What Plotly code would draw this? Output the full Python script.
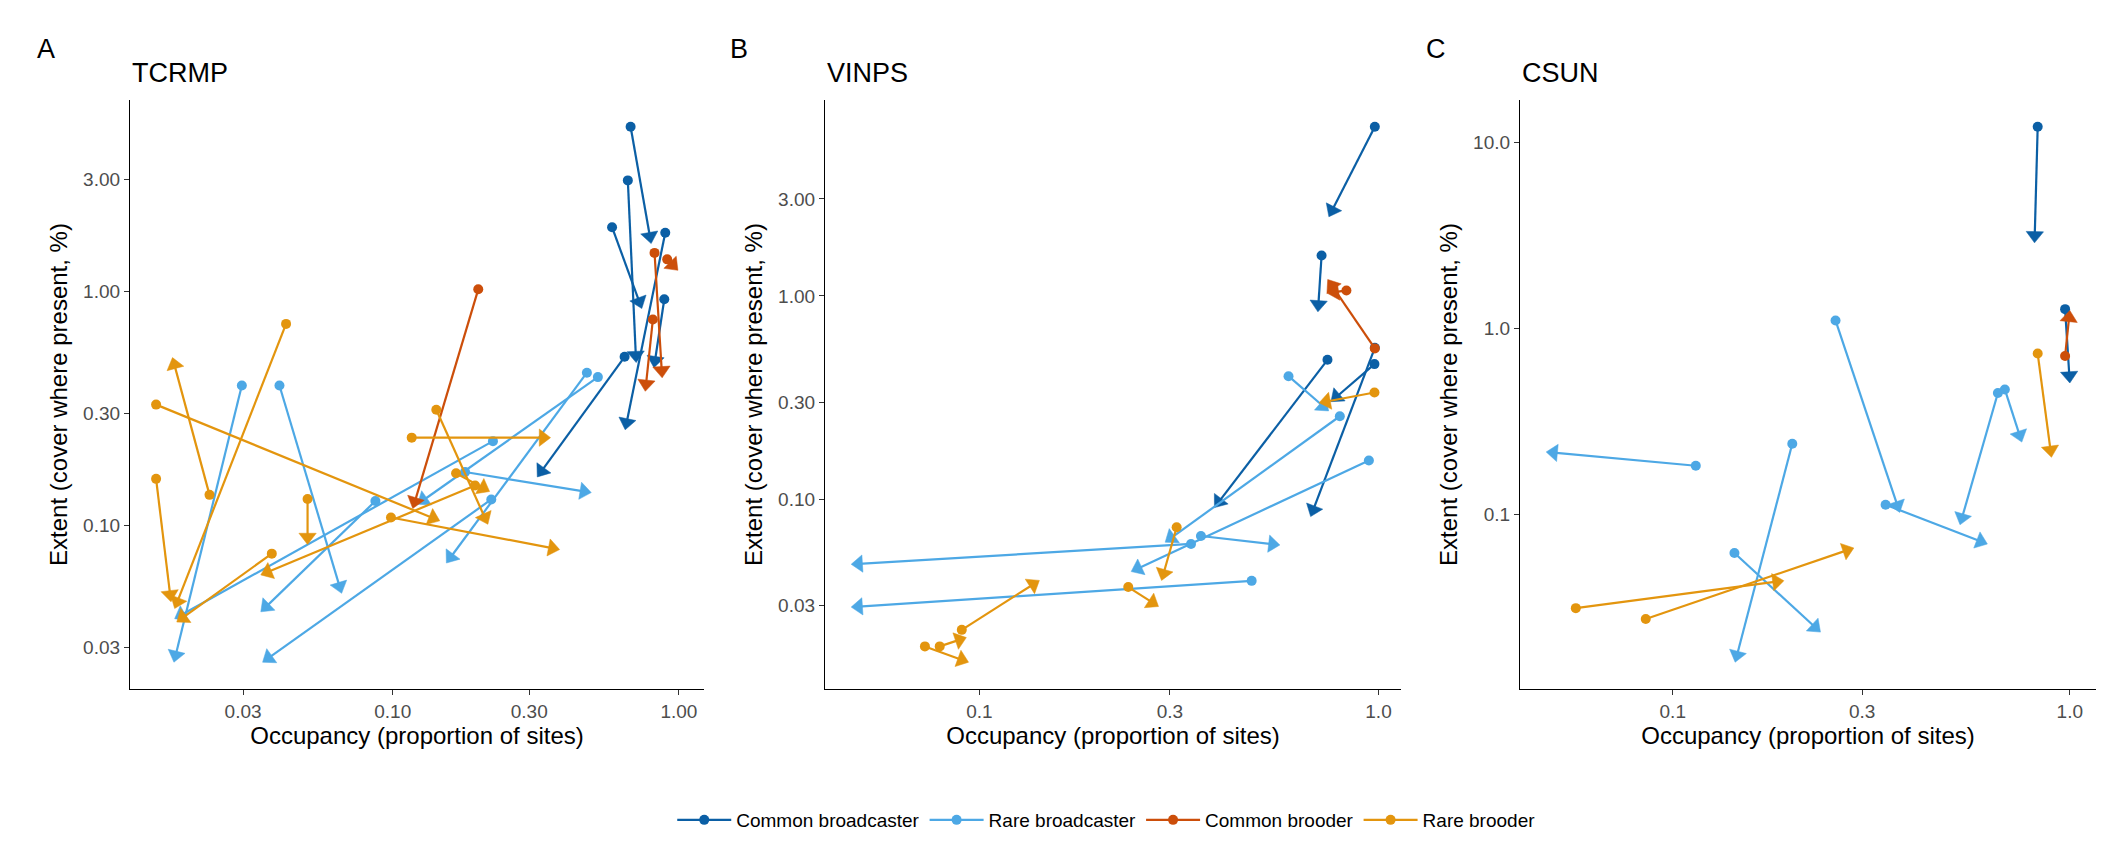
import numpy as np
import plotly.graph_objects as go

# groups, legend order and colours
groups = ['Common broadcaster', 'Rare broadcaster', 'Common brooder', 'Rare brooder']
colours = ['#0B5FA5', '#4DA8E5', '#CC4E0A', '#E3950E']

# TCRMP: occupancy / extent at first (occ1, ext1) and last (occ2, ext2) period
tcrmp_group = ['Common broadcaster', 'Common broadcaster', 'Common broadcaster',
               'Common broadcaster', 'Common broadcaster', 'Common broadcaster',
               'Rare broadcaster', 'Rare broadcaster', 'Rare broadcaster', 'Rare broadcaster',
               'Rare broadcaster', 'Rare broadcaster', 'Rare broadcaster', 'Rare broadcaster',
               'Common brooder', 'Common brooder', 'Common brooder', 'Common brooder',
               'Rare brooder', 'Rare brooder', 'Rare brooder', 'Rare brooder', 'Rare brooder',
               'Rare brooder', 'Rare brooder', 'Rare brooder', 'Rare brooder', 'Rare brooder',
               'Rare brooder']
tcrmp_occ1 = [0.678, 0.663, 0.584, 0.896, 0.889, 0.646,
              0.0297, 0.0402, 0.087, 0.224, 0.179, 0.221, 0.477, 0.521,
              0.822, 0.811, 0.910, 0.199,
              0.0424, 0.0149, 0.0149, 0.0229, 0.0504, 0.0378, 0.142, 0.1165, 0.1665, 0.194, 0.0986]
tcrmp_ext1 = [5.05, 2.98, 1.88, 1.78, 0.925, 0.525,
              0.396, 0.396, 0.127, 0.229, 0.169, 0.129, 0.449, 0.430,
              1.46, 0.758, 1.37, 1.02,
              0.726, 0.328, 0.158, 0.135, 0.1295, 0.0757, 0.312, 0.237, 0.167, 0.148, 0.108]
tcrmp_occ2 = [0.800, 0.709, 0.742, 0.649, 0.818, 0.320,
              0.0172, 0.0663, 0.0346, 0.0173, 0.494, 0.0351, 0.154, 0.122,
              0.874, 0.763, 0.992, 0.1175,
              0.0173, 0.146, 0.0168, 0.0170, 0.0504, 0.0176, 0.215, 0.356, 0.218, 0.0346, 0.383]
tcrmp_ext2 = [1.60, 0.496, 0.844, 0.256, 0.472, 0.161,
              0.026, 0.0512, 0.0427, 0.0399, 0.138, 0.026, 0.069, 0.123,
              0.427, 0.374, 1.23, 0.118,
              0.0441, 0.1045, 0.0471, 0.521, 0.0828, 0.0386, 0.101, 0.237, 0.1395, 0.0614, 0.0788]

# VINPS
vinps_group = ['Common broadcaster', 'Common broadcaster', 'Common broadcaster',
               'Common broadcaster', 'Common broadcaster',
               'Common brooder', 'Common brooder',
               'Rare broadcaster', 'Rare broadcaster', 'Rare broadcaster',
               'Rare broadcaster', 'Rare broadcaster', 'Rare broadcaster',
               'Rare brooder', 'Rare brooder', 'Rare brooder',
               'Rare brooder', 'Rare brooder', 'Rare brooder']
vinps_occ1 = [0.979, 0.72, 0.745, 0.977, 0.979,
              0.979, 0.831,
              0.595, 0.80, 0.946, 0.359, 0.339, 0.481,
              0.977, 0.312, 0.236, 0.0903, 0.0795, 0.0730]
vinps_ext1 = [6.79, 1.58, 0.485, 0.462, 0.556,
              0.552, 1.064,
              0.403, 0.256, 0.155, 0.066, 0.0603, 0.0397,
              0.335, 0.0729, 0.0370, 0.0228, 0.0189, 0.0189]
vinps_occ2 = [0.751, 0.705, 0.388, 0.76, 0.676,
              0.746, 0.745,
              0.75, 0.292, 0.240, 0.566, 0.0477, 0.0477,
              0.71, 0.286, 0.281, 0.1413, 0.0927, 0.0939]
vinps_ext2 = [2.45, 0.835, 0.091, 0.302, 0.0822,
              1.205, 1.03,
              0.272, 0.0615, 0.0441, 0.0596, 0.0479, 0.0295,
              0.298, 0.0399, 0.0297, 0.0399, 0.0209, 0.0158]

# CSUN
csun_group = ['Common broadcaster', 'Common broadcaster',
              'Common brooder',
              'Rare brooder', 'Rare brooder', 'Rare brooder',
              'Rare broadcaster', 'Rare broadcaster', 'Rare broadcaster', 'Rare broadcaster',
              'Rare broadcaster', 'Rare broadcaster', 'Rare broadcaster']
csun_occ1 = [0.830, 0.973,
             0.973,
             0.830, 0.0570, 0.0855,
             0.257, 0.659, 0.686, 0.1143, 0.200, 0.3436, 0.143]
csun_ext1 = [12.2, 1.27,
             0.710,
             0.732, 0.0311, 0.0272,
             1.104, 0.449, 0.469, 0.182, 0.239, 0.1122, 0.0616]
csun_occ2 = [0.815, 1.0,
             1.0,
             0.899, 0.1905, 0.2858,
             0.373, 0.529, 0.757, 0.048, 0.1436, 0.620, 0.2355]
csun_ext2 = [2.89, 0.508,
             1.25,
             0.202, 0.0437, 0.0656,
             0.102, 0.0875, 0.244, 0.216, 0.0159, 0.0689, 0.0231]

panels = [
    ('TCRMP', 'A', tcrmp_group, tcrmp_occ1, tcrmp_ext1, tcrmp_occ2, tcrmp_ext2,
     [0.03, 0.1, 0.3, 1], ['0.03', '0.10', '0.30', '1.00'],
     [0.03, 0.1, 0.3, 1, 3], ['0.03', '0.10', '0.30', '1.00', '3.00']),
    ('VINPS', 'B', vinps_group, vinps_occ1, vinps_ext1, vinps_occ2, vinps_ext2,
     [0.1, 0.3, 1], ['0.1', '0.3', '1.0'],
     [0.03, 0.1, 0.3, 1, 3], ['0.03', '0.10', '0.30', '1.00', '3.00']),
    ('CSUN', 'C', csun_group, csun_occ1, csun_ext1, csun_occ2, csun_ext2,
     [0.1, 0.3, 1], ['0.1', '0.3', '1.0'],
     [0.1, 1, 10], ['0.1', '1.0', '10.0']),
]

W, H = 2112, 864
x_domains = [(122, 696), (817, 1393), (1512, 2088)]
y_domain = [1 - 681 / H, 1 - 92 / H]
tag_x = [27, 720, 1416]
FONT = 'Liberation Sans, Arial, sans-serif'
HEAD = 15  # arrow head size (px)


def log_range(vals):
    lo, hi = np.log10(min(vals)), np.log10(max(vals))
    pad = 0.05 * (hi - lo)
    return [lo - pad, hi + pad]


fig = go.Figure()
annotations = []

for i, (title, tag, grp, o1, e1, o2, e2, xt, xtt, yt, ytt) in enumerate(panels):
    n = i + 1
    xa = 'x' if n == 1 else 'x%d' % n
    ya = 'y' if n == 1 else 'y%d' % n
    for g, col in zip(groups, colours):
        lx, ly, sz, dx_, dy_ = [], [], [], [], []
        for gi, a, b, c, d in zip(grp, o1, e1, o2, e2):
            if gi != g:
                continue
            lx += [a, c, None]
            ly += [b, d, None]
            sz += [0, HEAD, 0]
            dx_ += [a, None]
            dy_ += [b, None]
        # segments with arrow heads at the end point
        fig.add_trace(go.Scatter(
            x=lx, y=ly, mode='lines+markers', xaxis=xa, yaxis=ya,
            line=dict(color=col, width=2.2),
            marker=dict(symbol='triangle-up', size=sz, color=col, opacity=1,
                        angleref='previous', standoff=HEAD / 2,
                        line=dict(width=0.5, color=col)),
            showlegend=False, legendgroup=g, hoverinfo='skip'))
        # start points
        fig.add_trace(go.Scatter(
            x=dx_, y=dy_, mode='lines+markers', xaxis=xa, yaxis=ya,
            line=dict(color=col, width=2.2),
            marker=dict(symbol='circle', size=10, color=col, line=dict(width=0)),
            name=g, legendgroup=g, showlegend=(n == 1),
            legendrank=groups.index(g) + 1, hoverinfo='skip'))

    dx = x_domains[i]
    axis_common = dict(type='log', showline=True, linecolor='black', linewidth=1.3,
                       ticks='outside', ticklen=5, tickwidth=1.2, tickcolor='#333333',
                       showgrid=False, zeroline=False,
                       tickfont=dict(size=19, color='#4D4D4D', family=FONT))
    fig.layout['xaxis' if n == 1 else 'xaxis%d' % n] = dict(
        axis_common, domain=[dx[0] / W, dx[1] / W], anchor=ya,
        range=log_range(o1 + o2), tickvals=xt, ticktext=xtt,
        title=dict(text='Occupancy (proportion of sites)', standoff=6,
                   font=dict(size=24, color='black', family=FONT)))
    fig.layout['yaxis' if n == 1 else 'yaxis%d' % n] = dict(
        axis_common, domain=y_domain, anchor=xa,
        range=log_range(e1 + e2), tickvals=yt, ticktext=ytt,
        title=dict(text='Extent (cover where present, %)', standoff=8,
                   font=dict(size=24, color='black', family=FONT)))

    annotations.append(dict(text=tag, x=tag_x[i] / W, y=1 - 41 / H, xref='paper', yref='paper',
                            xanchor='left', yanchor='middle', showarrow=False,
                            font=dict(size=27, color='black', family=FONT)))
    annotations.append(dict(text=title, x=dx[0] / W, y=1 - 65 / H, xref='paper', yref='paper',
                            xanchor='left', yanchor='middle', showarrow=False,
                            font=dict(size=27, color='black', family=FONT)))

fig.update_layout(
    width=W, height=H,
    margin=dict(l=0, r=0, t=0, b=0),
    paper_bgcolor='white', plot_bgcolor='white',
    font=dict(family=FONT, color='black'),
    annotations=annotations,
    showlegend=True,
    legend=dict(orientation='h', x=0.52, xanchor='center', y=1 - 812 / H, yanchor='middle',
                font=dict(size=19, color='black', family=FONT), itemwidth=54,
                bgcolor='rgba(0,0,0,0)'),
)

fig.write_html('out.html')
